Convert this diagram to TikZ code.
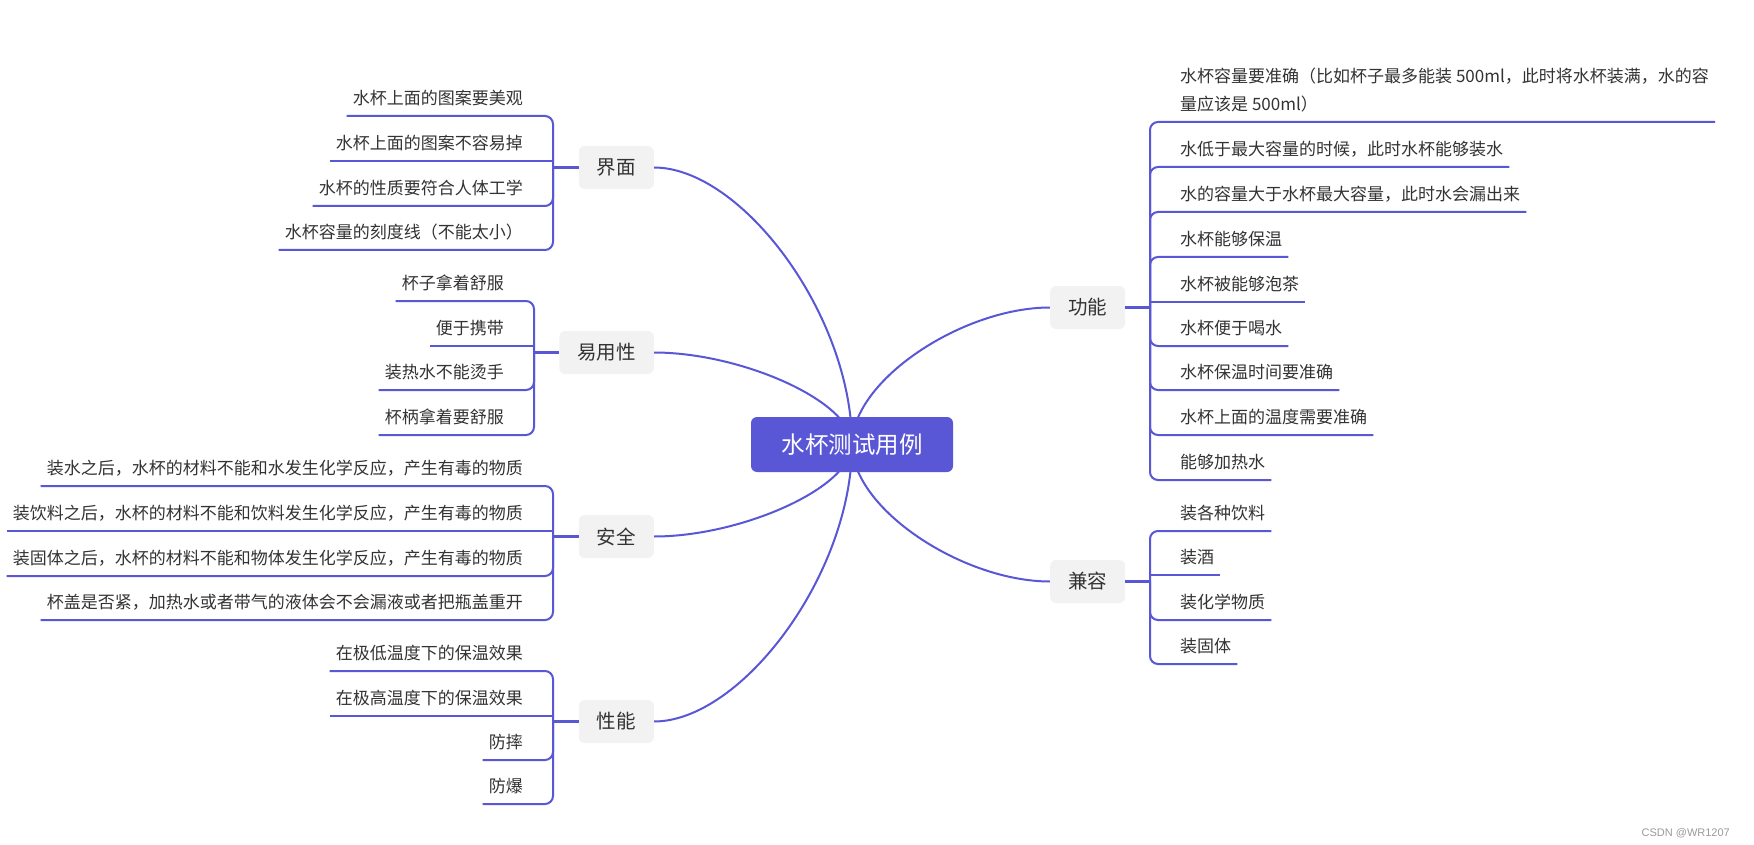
\documentclass[tikz,border=0pt]{standalone}
\usepackage{fontspec}
\setmainfont{Noto Sans CJK SC}
\newfontfamily\wmfont{Liberation Sans}
\usetikzlibrary{calc,backgrounds}
\definecolor{lc}{HTML}{5A57D6}
\definecolor{boxfill}{HTML}{F2F2F2}
\definecolor{txt}{HTML}{333333}
\definecolor{wm}{HTML}{9A9A9A}
\tikzset{
  rootbox/.style={fill=lc, rounded corners=6pt, minimum width=202pt, minimum height=55pt,
    text=white, font=\fontsize{23.5}{28}\selectfont, inner sep=0pt},
  topic/.style={fill=boxfill, rounded corners=6pt, minimum height=43pt, inner xsep=18pt,
    inner ysep=0pt, text=txt, font=\fontsize{19.5}{24}\selectfont},
  leaf/.style={text=txt, font=\fontsize{17}{28}\selectfont, inner xsep=6pt, inner ysep=0pt,
    text depth=11.5pt},
  lleaf/.style={leaf, anchor=south east},
  rleaf/.style={leaf, anchor=south west},
  curve/.style={draw=lc, line width=2pt},
  stem/.style={draw=lc, line width=3pt},
  twig/.style={draw=lc, line width=2pt, rounded corners=8pt},
  twigs/.style={draw=lc, line width=2pt},
}
\begin{document}
\begin{tikzpicture}[x=1pt, y=-1pt]
\useasboundingbox (0,0) rectangle (1754,845);

% root
\node[rootbox] (root) at (852,444.5) {水杯测试用例};

% topics
\node[topic, anchor=east] (jm) at (654,167.5) {界面};
\node[topic, anchor=east] (yy) at (654,352.5) {易用性};
\node[topic, anchor=east] (aq) at (654,536.5) {安全};
\node[topic, anchor=east] (xn) at (654,721.5) {性能};
\node[topic, anchor=west] (gn) at (1050,307.5) {功能};
\node[topic, anchor=west] (jr) at (1050,581.5) {兼容};

% junctions
\coordinate (jmJ) at (553,167.5);
\coordinate (yyJ) at (534,352.5);
\coordinate (aqJ) at (553,536.5);
\coordinate (xnJ) at (553,721.5);
\coordinate (gnJ) at (1150,307.5);
\coordinate (jrJ) at (1150,581.5);

\draw[stem] (jm.west) -- (jmJ);
\draw[stem] (yy.west) -- (yyJ);
\draw[stem] (aq.west) -- (aqJ);
\draw[stem] (xn.west) -- (xnJ);
\draw[stem] (gn.east) -- (gnJ);
\draw[stem] (jr.east) -- (jrJ);

% 界面 leaves
\node[lleaf] (jm1) at (529,116) {水杯上面的图案要美观};
\node[lleaf] (jm2) at (529,161) {水杯上面的图案不容易掉};
\node[lleaf] (jm3) at (529,206) {水杯的性质要符合人体工学};
\node[lleaf] (jm4) at (529,250) {水杯容量的刻度线（不能太小）};
\draw[twig] (jmJ) |- (jm1.south west);
\draw[twigs] (jmJ) |- (jm2.south west);
\draw[twig] (jmJ) |- (jm3.south west);
\draw[twig] (jmJ) |- (jm4.south west);

% 易用性 leaves
\node[lleaf] (yy1) at (510,301) {杯子拿着舒服};
\node[lleaf] (yy2) at (510,346) {便于携带};
\node[lleaf] (yy3) at (510,390) {装热水不能烫手};
\node[lleaf] (yy4) at (510,435) {杯柄拿着要舒服};
\draw[twig] (yyJ) |- (yy1.south west);
\draw[twigs] (yyJ) |- (yy2.south west);
\draw[twig] (yyJ) |- (yy3.south west);
\draw[twig] (yyJ) |- (yy4.south west);

% 安全 leaves
\node[lleaf] (aq1) at (529,486) {装水之后，水杯的材料不能和水发生化学反应，产生有毒的物质};
\node[lleaf] (aq2) at (529,531) {装饮料之后，水杯的材料不能和饮料发生化学反应，产生有毒的物质};
\node[lleaf] (aq3) at (529,576) {装固体之后，水杯的材料不能和物体发生化学反应，产生有毒的物质};
\node[lleaf] (aq4) at (529,620) {杯盖是否紧，加热水或者带气的液体会不会漏液或者把瓶盖重开};
\draw[twig] (aqJ) |- (aq1.south west);
\draw[twigs] (aqJ) |- (aq2.south west);
\draw[twig] (aqJ) |- (aq3.south west);
\draw[twig] (aqJ) |- (aq4.south west);

% 性能 leaves
\node[lleaf] (xn1) at (529,671) {在极低温度下的保温效果};
\node[lleaf] (xn2) at (529,716) {在极高温度下的保温效果};
\node[lleaf] (xn3) at (529,760) {防摔};
\node[lleaf] (xn4) at (529,804) {防爆};
\draw[twig] (xnJ) |- (xn1.south west);
\draw[twigs] (xnJ) |- (xn2.south west);
\draw[twig] (xnJ) |- (xn3.south west);
\draw[twig] (xnJ) |- (xn4.south west);

% 功能 leaves
\node[rleaf] (gn1) at (1174,122) {\vbox{\baselineskip=28pt\hbox{水杯容量要准确（比如杯子最多能装 500ml，此时将水杯装满，水的容}\hbox{量应该是 500ml）}}};
\node[rleaf] (gn2) at (1174,167) {水低于最大容量的时候，此时水杯能够装水};
\node[rleaf] (gn3) at (1174,212) {水的容量大于水杯最大容量，此时水会漏出来};
\node[rleaf] (gn4) at (1174,257) {水杯能够保温};
\node[rleaf] (gn5) at (1174,302) {水杯被能够泡茶};
\node[rleaf] (gn6) at (1174,346) {水杯便于喝水};
\node[rleaf] (gn7) at (1174,390) {水杯保温时间要准确};
\node[rleaf] (gn8) at (1174,435) {水杯上面的温度需要准确};
\node[rleaf] (gn9) at (1174,480) {能够加热水};
\draw[twig] (gnJ) |- (gn1.south east);
\draw[twig] (gnJ) |- (gn2.south east);
\draw[twig] (gnJ) |- (gn3.south east);
\draw[twig] (gnJ) |- (gn4.south east);
\draw[twigs] (gnJ) |- (gn5.south east);
\draw[twig] (gnJ) |- (gn6.south east);
\draw[twig] (gnJ) |- (gn7.south east);
\draw[twig] (gnJ) |- (gn8.south east);
\draw[twig] (gnJ) |- (gn9.south east);

% 兼容 leaves
\node[rleaf] (jr1) at (1174,531) {装各种饮料};
\node[rleaf] (jr2) at (1174,575) {装酒};
\node[rleaf] (jr3) at (1174,620) {装化学物质};
\node[rleaf] (jr4) at (1174,664) {装固体};
\draw[twig] (jrJ) |- (jr1.south east);
\draw[twigs] (jrJ) |- (jr2.south east);
\draw[twig] (jrJ) |- (jr3.south east);
\draw[twig] (jrJ) |- (jr4.south east);

% watermark
\node[font=\wmfont\fontsize{11}{13}\selectfont, text=wm, anchor=east, inner sep=0pt] (wmk) at (1730,833) {CSDN @WR1207};

% background and main curves
\begin{pgfonlayer}{background}
\fill[white] (0,0) rectangle (1754,845);
\foreach \t/\a in {jm/east, yy/east, aq/east, xn/east, gn/west, jr/west}{
  \draw[curve] (root.center) .. controls ($(root.center)!0.47!(root.center |- \t.\a)$)
    and ($(\t.\a)!0.44!(\t.\a -| root.center)$) .. (\t.\a);
}
\end{pgfonlayer}
\end{tikzpicture}
\end{document}
